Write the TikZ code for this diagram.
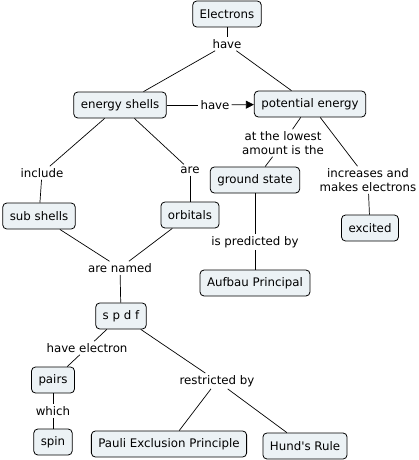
\documentclass[tikz,border=0pt]{standalone}
\usepackage{fontspec}
\setmainfont{DejaVu Sans}
\usetikzlibrary{arrows.meta}
\definecolor{conceptfill}{RGB}{236,242,245}
\tikzset{
  concept/.style = {draw=black,fill=conceptfill,rounded corners=4pt,
                    minimum height=26pt,inner xsep=7pt,line width=0.8pt,
                    font=\fontsize{11.8}{13}\selectfont},
  phrase/.style  = {inner sep=2pt,align=center,
                    font=\fontsize{11.8}{14}\selectfont},
  link/.style    = {draw=black,line width=0.7pt},
  linkarr/.style = {link,-{Triangle[length=8pt,width=8pt]}}
}

\begin{document}
\begin{tikzpicture}[x=1pt,y=-1pt]
  \useasboundingbox (0,0) rectangle (418,460);
  % concepts
  \node[concept] (electrons) at (227,14)  {Electrons};
  \node[concept] (shells)    at (120,105) {energy shells};
  \node[concept] (potential) at (310,104) {potential energy};
  \node[concept] (ground)    at (255,180) {ground state};
  \node[concept] (subshells) at (39,216)  {sub shells};
  \node[concept] (orbitals)  at (190,215) {orbitals};
  \node[concept] (excited)   at (370,228) {excited};
  \node[concept] (aufbau)    at (255,283) {Aufbau Principal};
  \node[concept] (spdf)      at (121,316) {s p d f};
  \node[concept] (pairs)     at (53,380)  {pairs};
  \node[concept] (spin)      at (53,442)  {spin};
  \node[concept] (pauli)     at (169,444) {Pauli Exclusion Principle};
  \node[concept] (hund)      at (305,446) {Hund\textquotesingle s Rule};
  % linking phrases
  \node[phrase] (have)      at (227,44)  {have};
  \node[phrase] (havepe)    at (215,105) {have};
  \node[phrase] (lowest)    at (283,143) {at the lowest\\amount is the};
  \node[phrase] (include)   at (42,173)  {include};
  \node[phrase] (are)       at (190,170) {are};
  \node[phrase] (increases) at (368,180) {increases and\\makes electrons};
  \node[phrase] (predicted) at (255,242) {is predicted by};
  \node[phrase] (named)     at (120,268) {are named};
  \node[phrase] (haveel)    at (87,348)  {have electron};
  \node[phrase] (restrict)  at (217,381) {restricted by};
  \node[phrase] (which)     at (53,411)  {which};
  % connectors
  \draw[link] (electrons) -- (have);
  \draw[link] (have) -- (shells);
  \draw[link] (have) -- (potential);
  \draw[link] (shells) -- (havepe);
  \draw[linkarr] (havepe) -- (potential);
  \draw[link] (potential) -- (lowest);
  \draw[link] (lowest) -- (ground);
  \draw[link] (potential) -- (increases);
  \draw[link] (increases) -- (excited);
  \draw[link] (shells) -- (include);
  \draw[link] (include) -- (subshells);
  \draw[link] (shells) -- (are);
  \draw[link] (are) -- (orbitals);
  \draw[link] (ground) -- (predicted);
  \draw[link] (predicted) -- (aufbau);
  \draw[link] (subshells) -- (named);
  \draw[link] (orbitals) -- (named);
  \draw[link] (named) -- (spdf);
  \draw[link] (spdf) -- (haveel);
  \draw[link] (haveel) -- (pairs);
  \draw[link] (pairs) -- (which);
  \draw[link] (which) -- (spin);
  \draw[link] (spdf) -- (restrict);
  \draw[link] (restrict) -- (pauli);
  \draw[link] (restrict) -- (hund);
\end{tikzpicture}
\end{document}
